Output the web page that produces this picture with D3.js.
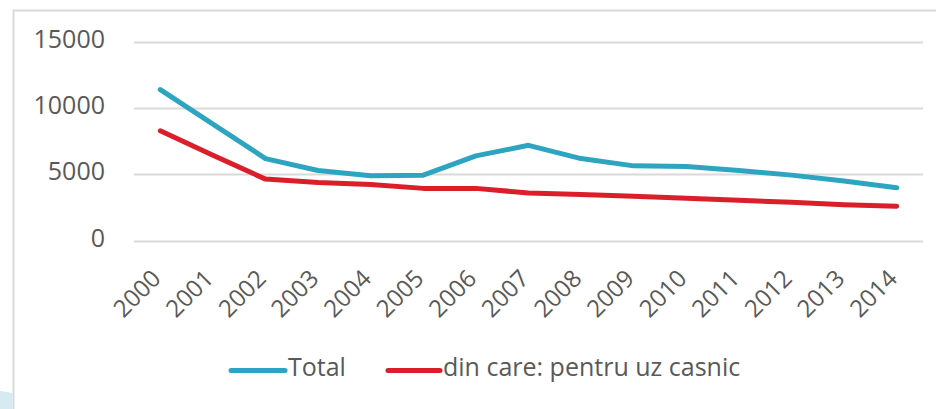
<!DOCTYPE html>
<html>
<head>
<meta charset="utf-8">
<script src="https://cdn.jsdelivr.net/npm/d3@7"></script>
<style>
  html, body { margin: 0; padding: 0; background: #fff; }
  svg { display: block; font-family: "Open Sans", sans-serif; }
</style>
</head>
<body>
<svg id="chart" width="936" height="409"></svg>
<script>
// Years on the category axis
const years = ["2000","2001","2002","2003","2004","2005","2006","2007","2008","2009","2010","2011","2012","2013","2014"];
// Total values
const totalValues = [11400, 8800, 6200, 5300, 4900, 4950, 6400, 7200, 6200, 5650, 5600, 5300, 4950, 4500, 4000];
// Of which: household use
const casnicValues = [8300, 6450, 4650, 4400, 4250, 3950, 3950, 3600, 3480, 3350, 3200, 3050, 2900, 2720, 2600];
// Y-axis ticks
const yTicks = [0, 5000, 10000, 15000];
const seriesNames = ["Total", "din care: pentru uz casnic"];
const seriesColors = ["#2ea5c0", "#da1f2a"];

const svg = d3.select("#chart");
const textColor = "#595959";

// frame
svg.append("path")
  .attr("d", "M13.5,409 L13.5,10.5 L936,10.5")
  .attr("fill", "none").attr("stroke", "#d9d9d9").attr("stroke-width", 2);
svg.append("path")
  .attr("d", "M0,391 Q8,392 12.5,393 L12.5,409 L0,409 Z")
  .attr("fill", "#d6eaf1");

const x = d3.scaleBand().domain(years).range([134, 923]);
const y = d3.scaleLinear().domain([0, 15000]).range([240.7, 42]);

// gridlines
svg.append("g").selectAll("line").data(yTicks).join("line")
  .attr("x1", 134).attr("x2", 923)
  .attr("y1", d => Math.round(y(d)) + 0.5).attr("y2", d => Math.round(y(d)) + 0.5)
  .attr("stroke", "#d9d9d9").attr("stroke-width", 2);

// y axis labels
const yAxis = d3.axisLeft(y).tickValues(yTicks).tickSize(0).tickPadding(0).tickFormat(d3.format("d"));
const gy = svg.append("g").attr("transform", "translate(105,0)").call(yAxis);
gy.select(".domain").remove();
gy.selectAll("text")
  .attr("fill", textColor).attr("font-size", 25)
  .attr("font-family", "Open Sans").attr("dy", "0.22em");

// x axis labels, rotated
const xAxis = d3.axisBottom(x).tickSize(0).tickPadding(0);
const gx = svg.append("g").attr("transform", "translate(0,240)").call(xAxis);
gx.select(".domain").remove();
gx.selectAll("text")
  .attr("fill", textColor).attr("font-size", 24).attr("font-family", "Open Sans")
  .attr("text-anchor", "end")
  .attr("dy", 0).attr("y", 0)
  .attr("transform", "translate(2,40) rotate(-45)");

// series lines
const line = d3.line().x((d, i) => x(years[i]) + x.bandwidth() / 2).y(d => y(d));
[totalValues, casnicValues].forEach((vals, k) => {
  svg.append("path").datum(vals)
    .attr("d", line)
    .attr("fill", "none").attr("stroke", seriesColors[k]).attr("stroke-width", 5)
    .attr("stroke-linecap", "round").attr("stroke-linejoin", "round");
});

// legend
const legendItems = [{x1: 231, x2: 285, tx: 288}, {x1: 388, x2: 440, tx: 443}];
legendItems.forEach((it, k) => {
  svg.append("line")
    .attr("x1", it.x1).attr("x2", it.x2).attr("y1", 370.5).attr("y2", 370.5)
    .attr("stroke", seriesColors[k]).attr("stroke-width", 5).attr("stroke-linecap", "round");
  svg.append("text")
    .attr("x", it.tx).attr("y", 376)
    .attr("fill", textColor).attr("font-size", 25)
    .text(seriesNames[k]);
});
</script>
</body>
</html>
